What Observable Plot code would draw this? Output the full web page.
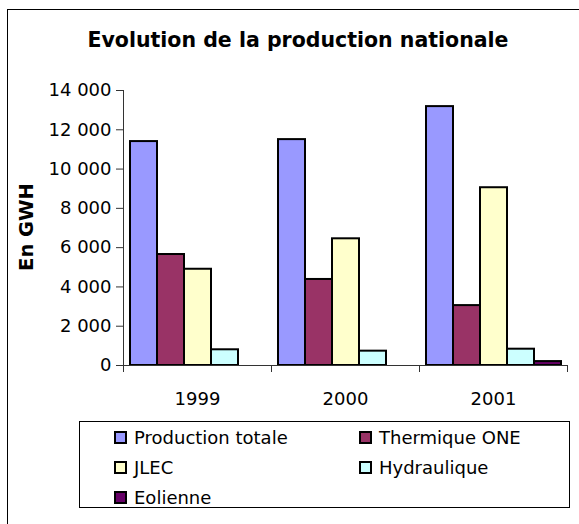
<!DOCTYPE html>
<html><head><meta charset="utf-8">
<script src="https://cdn.jsdelivr.net/npm/d3@7"></script>
<script src="https://cdn.jsdelivr.net/npm/@observablehq/plot@0.6"></script>
<style>
body{margin:0;background:#fff;font-family:"DejaVu Sans",Verdana,sans-serif;color:#000;}
#wrap{position:relative;width:579px;height:524px;overflow:hidden;background:#fff;}
#border{position:absolute;left:7px;top:9px;width:620px;height:620px;border:1px solid #000;box-sizing:border-box;}
#title{position:absolute;left:0;width:596px;top:28px;text-align:center;font-weight:bold;font-size:20.5px;line-height:24px;}
#ylabel{position:absolute;left:26px;top:227px;transform:translate(-50%,-50%) rotate(-90deg);font-weight:bold;font-size:19.5px;white-space:nowrap;}
#chart{position:absolute;left:0;top:60px;}
#legend{position:absolute;left:79px;top:421px;width:491px;height:87px;border:1px solid #000;box-sizing:border-box;background:#fff;}
.item{position:absolute;display:flex;align-items:center;font-size:18px;height:24px;transform:translateY(-50%);white-space:nowrap;}
.sw{width:13px;height:13px;border:2px solid #000;box-sizing:border-box;margin-right:7px;}
</style>
</head><body>
<div id="wrap">
  <div id="border"></div>
  <div id="title">Evolution de la production nationale</div>
  <div id="chart"></div>
  <div id="ylabel">En GWH</div>
  <div id="legend"></div>
</div>
<script>
const years = ["1999", "2000", "2001"];
const series = ["Production totale", "Thermique ONE", "JLEC", "Hydraulique", "Eolienne"];
const colors = ["#9999FF", "#993366", "#FFFFCC", "#CCFFFF", "#660066"];
const productionTotale = [11400, 11500, 13180];
const thermiqueONE = [5650, 4380, 3050];
const jlec = [4900, 6450, 9050];
const hydraulique = [800, 730, 830];
const eolienne = [0, 0, 200];
const yTicks = [0, 2000, 4000, 6000, 8000, 10000, 12000, 14000];

const seriesValues = [productionTotale, thermiqueONE, jlec, hydraulique, eolienne];
const data = years.flatMap((yr, i) => series.map((s, j) => ({year: yr, series: s, value: seriesValues[j][i]})));

const fmt = d => d3.format(",")(d).replace(/,/g, " ");

const plot = Plot.plot({
  width: 579, height: 350,
  marginTop: 30, marginBottom: 45, marginLeft: 122, marginRight: 12,
  style: {fontFamily: "'DejaVu Sans', Verdana, sans-serif", fontSize: "18px", color: "#000", background: "transparent"},
  fx: {domain: years, padding: 0, label: null},
  x: {domain: series, paddingInner: 0, paddingOuter: 0.149, axis: null},
  y: {domain: [0, 14000], label: null},
  color: {domain: series, range: colors},
  marks: [
    Plot.barY(data.filter(d => d.value > 0), {fx: "year", x: "series", y: "value", fill: "series", stroke: "#000", strokeWidth: 2}),
    Plot.axisY({ticks: yTicks, tickFormat: fmt, tickSize: 7, tickPadding: 5, label: null, anchor: "left", stroke: "#333"}),
    Plot.axisFx({tickSize: 0, tickPadding: 27, label: null, anchor: "bottom"})
  ]
});
document.getElementById("chart").appendChild(plot);

// axis lines and category boundary ticks from the plot's own scales
const fx = plot.scale("fx"), ys = plot.scale("y");
const svg = d3.select(plot);
const g = svg.append("g").attr("stroke", "#333").attr("stroke-width", 1).attr("shape-rendering", "crispEdges");
const x0 = fx.apply(years[0]);
const xEnd = fx.apply(years[years.length - 1]) + fx.bandwidth;
const yZero = ys.apply(0), yTop = ys.apply(yTicks[yTicks.length - 1]);
g.append("line").attr("x1", x0).attr("x2", x0).attr("y1", yTop).attr("y2", yZero);
g.append("line").attr("x1", x0).attr("x2", xEnd).attr("y1", yZero).attr("y2", yZero);
const bounds = years.map(y => fx.apply(y)).concat([xEnd]);
bounds.forEach(b => g.append("line").attr("x1", b).attr("x2", b).attr("y1", yZero).attr("y2", yZero + 7));

// legend
const legend = d3.select("#legend");
series.forEach((s, i) => {
  const col = i % 2, row = Math.floor(i / 2);
  const item = legend.append("div").attr("class", "item")
    .style("left", (col === 0 ? 34 : 279) + "px")
    .style("top", (15 + row * 30) + "px");
  item.append("div").attr("class", "sw").style("background", colors[i]);
  item.append("span").text(s);
});
</script>
</body></html>
